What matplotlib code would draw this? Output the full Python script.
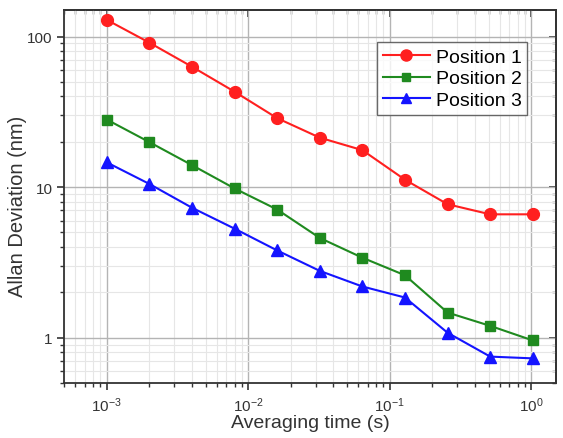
import matplotlib
matplotlib.use("Agg")
import matplotlib.pyplot as plt
from matplotlib.ticker import LogLocator, NullFormatter

plt.rcParams["font.family"] = ["Liberation Sans", "DejaVu Sans"]
plt.rcParams["mathtext.fontset"] = "custom"
plt.rcParams["mathtext.rm"] = "Liberation Sans"

# averaging times (s)
tau = [0.001, 0.002, 0.004, 0.008, 0.016, 0.032, 0.064, 0.128, 0.256, 0.512, 1.024]

# Allan deviation (nm)
pos1 = [129, 91, 63, 43, 28.7, 21.3, 17.6, 11.2, 7.7, 6.6, 6.6]
pos2 = [28.1, 19.9, 14.0, 9.8, 7.1, 4.6, 3.4, 2.6, 1.47, 1.2, 0.96]
pos3 = [14.6, 10.5, 7.3, 5.3, 3.8, 2.78, 2.19, 1.85, 1.08, 0.75, 0.73]

fig = plt.figure(figsize=(5.63, 4.39), dpi=100)
ax = fig.add_axes([0.114, 0.125, 0.874, 0.850])

ax.plot(tau, pos1, color="#ff1f1f", lw=1.5, marker="o", ms=8.5, label="Position 1")
ax.plot(tau, pos2, color="#1f8a1f", lw=1.5, marker="s", ms=6.5, label="Position 2")
ax.plot(tau, pos3, color="#1414ff", lw=1.5, marker="^", ms=8.5, label="Position 3")

ax.set_xscale("log")
ax.set_yscale("log")
ax.set_xlim(5e-4, 1.5)
ax.set_ylim(0.5, 150)

ax.set_yticks([1, 10, 100])
ax.set_yticklabels(["1", "10", "100"])
ax.xaxis.set_minor_locator(LogLocator(base=10, subs=range(2, 10)))
ax.yaxis.set_minor_locator(LogLocator(base=10, subs=range(2, 10)))
ax.xaxis.set_minor_formatter(NullFormatter())
ax.yaxis.set_minor_formatter(NullFormatter())

ax.grid(which="major", color="#b4b4b4", lw=1.0)
ax.grid(which="minor", color="#e6e6e6", lw=0.8)
ax.set_axisbelow(True)

ax.tick_params(which="both", direction="out", top=False, right=False,
               labelsize=11, colors="#333333")
ax.tick_params(which="major", length=5, width=1.2)
ax.tick_params(which="minor", length=3, width=1.0)
ax2 = ax.secondary_xaxis("top")
ax2.xaxis.set_minor_locator(LogLocator(base=10, subs=range(2, 10)))
ax2.tick_params(which="both", direction="in", labeltop=False, colors="#333333")
ax2.tick_params(which="major", length=5, width=1.2)
ax2.tick_params(which="minor", length=3, width=1.0)
ax3 = ax.secondary_yaxis("right")
ax3.yaxis.set_minor_locator(LogLocator(base=10, subs=range(2, 10)))
ax3.tick_params(which="both", direction="in", labelright=False, colors="#333333")
ax3.tick_params(which="major", length=5, width=1.2)
ax3.tick_params(which="minor", length=3, width=1.0)
for a in (ax, ax2, ax3):
    for s in a.spines.values():
        s.set_linewidth(1.3)
        s.set_color("#333333")

ax.set_xlabel("Averaging time (s)", fontsize=14, color="#333333", labelpad=0)
ax.set_ylabel("Allan Deviation (nm)", fontsize=14.5, color="#333333")
ax.yaxis.set_label_coords(-0.075, 0.477)

leg = ax.legend(loc="upper right", bbox_to_anchor=(0.941, 0.914), fontsize=14,
                frameon=True, fancybox=False, edgecolor="#444444",
                handlelength=2.4, handletextpad=0.3, borderpad=0.3,
                labelspacing=0.22, borderaxespad=0)
leg.get_frame().set_linewidth(1.0)
for h, m in zip(leg.legend_handles, (8, 6, 7.5)):
    h.set_markersize(m)

fig.savefig("out.png", dpi=100)
